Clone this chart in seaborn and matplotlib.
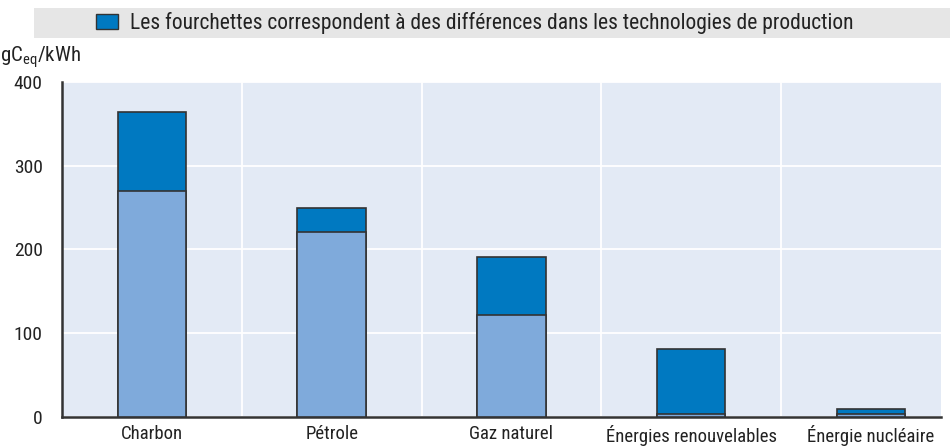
import seaborn as sns
import pandas as pd
import matplotlib.pyplot as plt
from matplotlib.patches import Patch, Rectangle

categories = ['Charbon', 'Pétrole', 'Gaz naturel', 'Énergies renouvelables', 'Énergie nucléaire']
low = [270, 221, 122, 4, 3]
high = [364, 249, 191, 81, 10]
yticks = [0, 100, 200, 300, 400]
legend_label = 'Les fourchettes correspondent à des différences dans les technologies de production'

df = pd.DataFrame({'cat': categories, 'low': low, 'high': high})

sns.set_style('white')
plt.rcParams['font.family'] = ['Roboto Condensed', 'Archivo Narrow', 'DejaVu Sans']

fig = plt.figure(figsize=(9.5, 4.48), dpi=100)
ax = fig.add_axes([62 / 950, 1 - 417 / 448, 879 / 950, 335 / 448])
ax.set_facecolor('#e3eaf5')

edge = '#333333'
sns.barplot(ax=ax, data=df, x='cat', y='high', color='#0079c1', width=0.38,
            edgecolor=edge, linewidth=1.2, saturation=1, zorder=3)
sns.barplot(ax=ax, data=df, x='cat', y='low', color='#7faadb', width=0.38,
            edgecolor=edge, linewidth=1.2, saturation=1, zorder=3)

ax.set_ylim(0, 400)
ax.set_xlim(-0.5, 4.39)
ax.set_yticks(yticks)
ax.set_yticklabels([str(v) for v in yticks], fontsize=14, color='#222222')
ax.set_xticks(range(len(categories)))
ax.set_xticklabels(categories, fontsize=13.5, color='#222222')
ax.set_xticks([0.5, 1.5, 2.5, 3.5], minor=True)
ax.tick_params(axis='x', which='major', length=0, pad=6)
ax.tick_params(axis='x', which='minor', direction='in', length=7, width=1, color='#444444')
ax.tick_params(axis='y', direction='in', length=7, width=1, color='#777777', pad=14)
ax.grid(False)
ax.grid(axis='y', which='major', color='white', lw=1.3, zorder=0)
ax.grid(axis='x', which='minor', color='white', lw=1.3, zorder=0)
ax.set_xlabel('')
ax.set_ylabel('')
for s in ['top', 'right']:
    ax.spines[s].set_visible(False)
for s in ['left', 'bottom']:
    ax.spines[s].set_color('#333333')
    ax.spines[s].set_linewidth(1.8)

fig.text(0, 1 - 57 / 448, r'gC$\mathregular{_{eq}}$/kWh', fontsize=15,
         va='center', ha='left', color='#222222')

fig.patches.append(Rectangle((34 / 950, 1 - 38 / 448), 916 / 950, 30 / 448,
                             transform=fig.transFigure, facecolor='#e6e6e6',
                             edgecolor='none', zorder=0))
handle = Patch(facecolor='#0079c1', edgecolor='#333333', linewidth=1)
fig.legend(handles=[handle], labels=[legend_label], loc='center',
           bbox_to_anchor=(475 / 950, 1 - 23 / 448), frameon=False, fontsize=15.5,
           handlelength=1.0, handleheight=0.75, handletextpad=0.6, labelcolor='#222222')

fig.savefig('out.png', dpi=100)
